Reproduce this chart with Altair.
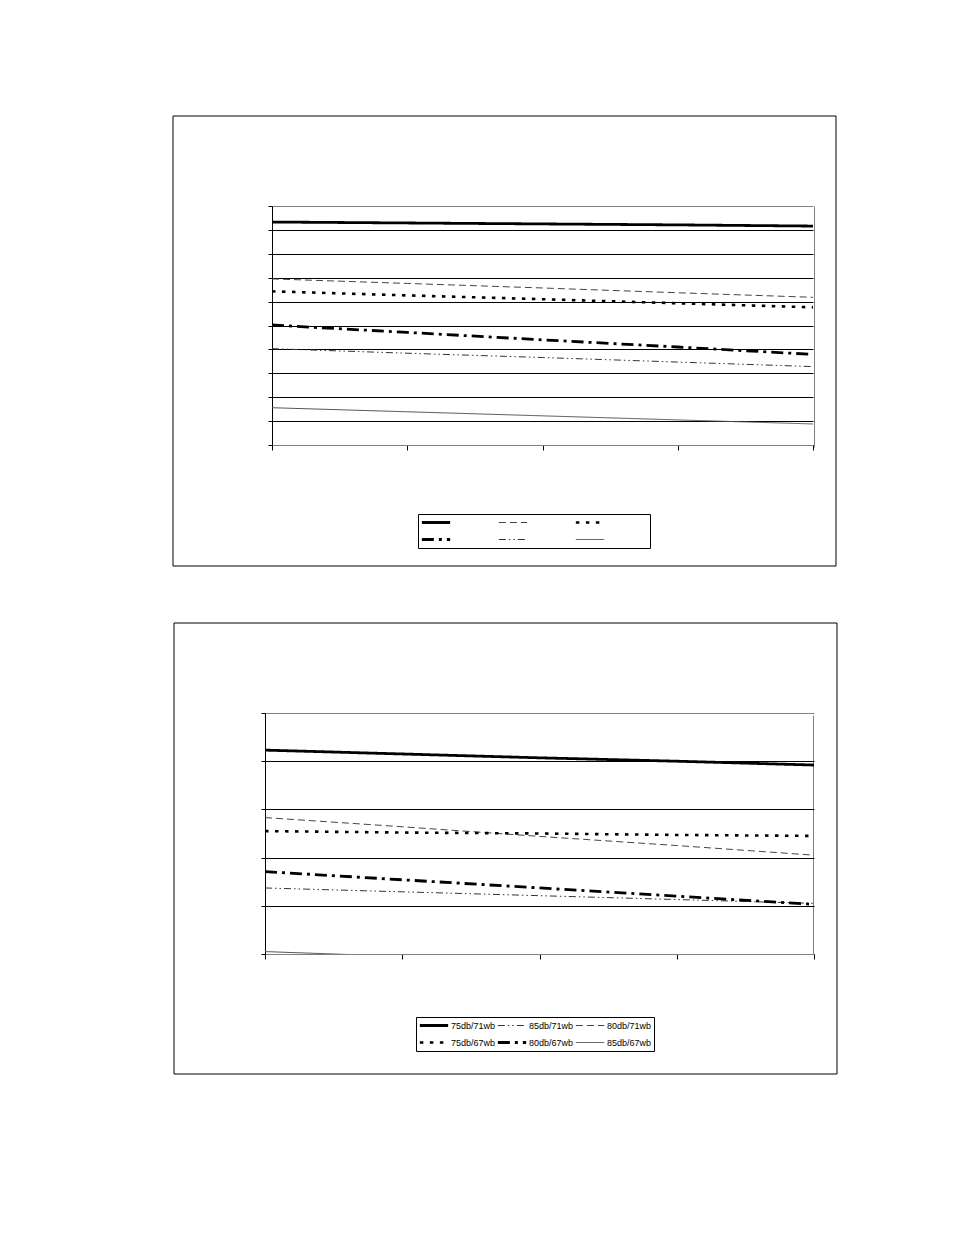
import altair as alt
import pandas as pd

xs = [0, 1, 2, 3, 4]
series_names = ["75db/71wb", "85db/71wb", "80db/71wb", "75db/67wb", "80db/67wb", "85db/67wb"]

# top chart values (grid units, 0..10)
top_75_71 = [9.33, 9.29, 9.25, 9.21, 9.16]
top_80_71 = [6.95, 6.76, 6.57, 6.37, 6.18]
top_75_67 = [6.43, 6.26, 6.10, 5.93, 5.76]
top_80_67 = [5.02, 4.71, 4.40, 4.10, 3.79]
top_85_71 = [4.03, 3.84, 3.66, 3.47, 3.28]
top_85_67 = [1.56, 1.39, 1.22, 1.05, 0.88]

# bottom chart values (grid units, 0..5)
bot_75_71 = [4.23, 4.15, 4.07, 4.00, 3.92]
bot_85_71 = [1.37, 1.29, 1.21, 1.13, 1.05]
bot_80_71 = [2.83, 2.64, 2.44, 2.25, 2.05]
bot_75_67 = [2.55, 2.52, 2.50, 2.47, 2.45]
bot_80_67 = [1.71, 1.54, 1.37, 1.20, 1.03]
bot_85_67 = [0.05, -0.05, -0.15, -0.25, -0.35]

styles = {
    "75db/71wb": ([1, 0], 2.8, "black"),
    "85db/71wb": ([7, 3, 1.5, 3, 1.5, 3], 1.0, "#333333"),
    "80db/71wb": ([7, 4], 1.0, "#444444"),
    "75db/67wb": ([3.5, 6.5], 2.6, "black"),
    "80db/67wb": ([12, 5, 3, 5], 2.8, "black"),
    "85db/67wb": ([1, 0], 1.0, "#555555"),
}

top_vals = {"75db/71wb": top_75_71, "85db/71wb": top_85_71, "80db/71wb": top_80_71,
            "75db/67wb": top_75_67, "80db/67wb": top_80_67, "85db/67wb": top_85_67}
bot_vals = {"75db/71wb": bot_75_71, "85db/71wb": bot_85_71, "80db/71wb": bot_80_71,
            "75db/67wb": bot_75_67, "80db/67wb": bot_80_67, "85db/67wb": bot_85_67}

top_order = ["75db/71wb", "80db/71wb", "75db/67wb", "80db/67wb", "85db/71wb", "85db/67wb"]
bot_order = series_names

TOTAL_W = 549
TOTAL_H = 748


def make_df(vals):
    rows = []
    for s, v in vals.items():
        for x, y in zip(xs, v):
            rows.append({"x": x, "v": y, "s": s})
    return pd.DataFrame(rows)


def panel_lines(vals, order, ymax, xr, yr, lx, ly, show_labels, colpad, loff, yoff, xoff):
    df = make_df(vals)
    legend = alt.Legend(
        orient="none", legendX=lx, legendY=ly, columns=3, direction="horizontal", title=None,
        symbolType="stroke", symbolSize=800,
        labelFont="Liberation Sans", labelFontSize=9, labelColor="black",
        labelOffset=loff, columnPadding=colpad, rowPadding=4, clipHeight=13,
        strokeColor="black", padding=2,
        labelExpr="datum.label" if show_labels else "''",
    )
    dash_scale = alt.Scale(domain=order, range=[styles[s][0] for s in order])
    width_scale = alt.Scale(type="ordinal", domain=order, range=[styles[s][1] for s in order])
    color_scale = alt.Scale(domain=order, range=[styles[s][2] for s in order])
    return alt.Chart(df).mark_line(clip=True).encode(
        x=alt.X("x:Q", scale=alt.Scale(domain=[0, 4], nice=False, range=xr),
                axis=alt.Axis(orient="bottom", offset=xoff, values=xs, labels=False, title=None, grid=True,
                              gridColor={"condition": {"test": "datum.value == 4", "value": "#808080"},
                                         "value": "transparent"},
                              tickSize=5, tickColor="black", domainColor="#808080")),
        y=alt.Y("v:Q", scale=alt.Scale(domain=[0, ymax], nice=False, range=yr),
                axis=alt.Axis(orient="left", offset=yoff, values=list(range(ymax + 1)), labels=False,
                              title=None, grid=True, tickSize=4, tickColor="black", domainColor="black",
                              gridColor={"condition": {"test": f"datum.value == {ymax}", "value": "#808080"},
                                         "value": "black"})),
        strokeDash=alt.StrokeDash("s:N", scale=dash_scale, legend=legend),
        strokeWidth=alt.StrokeWidth("s:N", scale=width_scale, legend=legend),
        color=alt.Color("s:N", scale=color_scale, legend=legend),
    )


def frame(x1, x2, y1, y2):
    return alt.Chart(pd.DataFrame({"a": [0]})).mark_rect(
        filled=False, stroke="black", strokeWidth=1
    ).encode(x=alt.value(x1), x2=alt.value(x2), y=alt.value(y1), y2=alt.value(y2))


top_lines = panel_lines(top_vals, top_order, 10, [7, 548], [239, 0], 153, 308, False, 3, 42,
                        -7, 239 - TOTAL_H)
bot_lines = panel_lines(bot_vals, bot_order, 5, [0, 549], [748, 507], 151, 811, True, 0, 1,
                        0, 0)

chart = alt.layer(
    frame(-92, 571, -90, 360), top_lines,
    frame(-91, 572, 417, 868), bot_lines,
).resolve_scale(
    x="independent", y="independent",
    strokeDash="independent", strokeWidth="independent", color="independent"
).resolve_axis(x="independent", y="independent").resolve_legend(
    strokeDash="independent", strokeWidth="independent", color="independent"
).properties(
    width=TOTAL_W, height=TOTAL_H,
    padding={"left": 164, "top": 107, "right": 5, "bottom": 5}
).configure_view(stroke="transparent")

chart.save("out.html", embed_options={"renderer": "svg", "actions": False})
